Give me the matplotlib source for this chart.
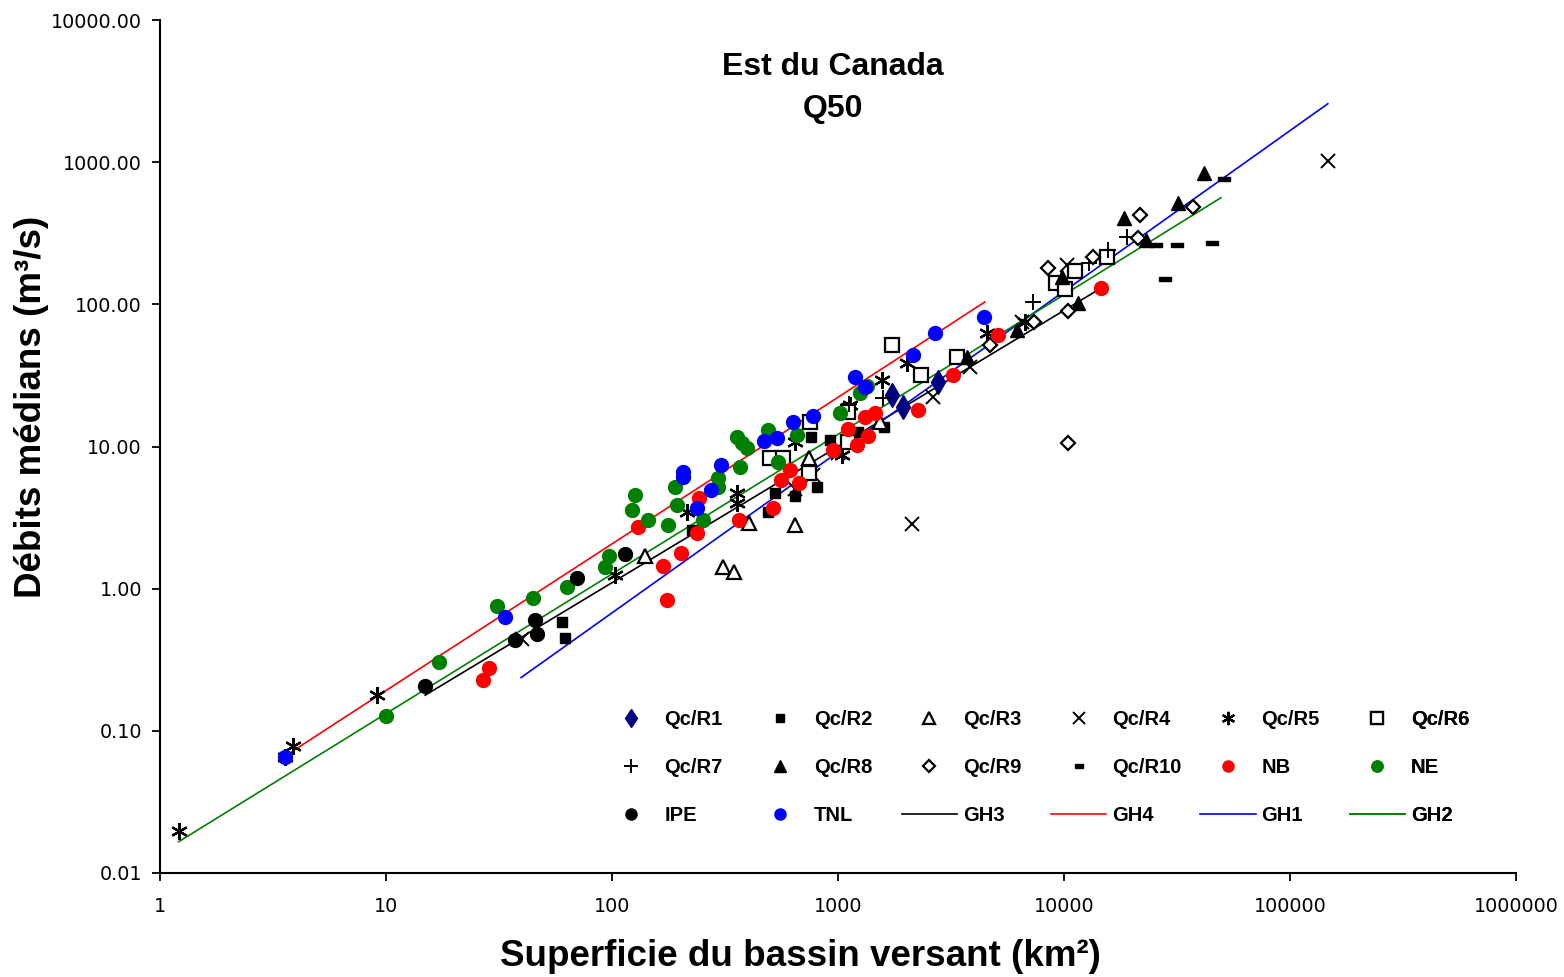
import matplotlib
matplotlib.use("Agg")
import matplotlib.pyplot as plt
from matplotlib.ticker import FixedLocator, NullLocator, FuncFormatter

# ---------------- data (area km2, median flow m3/s) ----------------
r1_x = [1740, 1941, 2770]
r1_y = [23.1, 19.0, 28.6]

r2_x = [60, 62, 226, 490, 526, 645, 760, 807, 920, 1226, 1600]
r2_y = [0.586, 0.452, 2.60, 3.48, 4.73, 4.51, 11.7, 5.22, 11.2, 12.7, 13.8]

r3_x = [140, 310, 348, 404, 645, 741, 1540]
r3_y = [1.71, 1.41, 1.30, 2.91, 2.82, 8.34, 14.9]

r4_x = [40, 645, 775, 1000, 2124, 2630, 3850, 6500, 10300, 147000]
r4_y = [0.445, 5.0, 6.34, 9.0, 2.86, 22.4, 36.4, 75.0, 190, 1023]

r5_x = [1.21, 3.57, 3.88, 9.12, 103, 215, 357, 357, 645, 1042, 1130, 1566, 2019, 4564, 6720]
r5_y = [0.0196, 0.065, 0.0787, 0.18, 1.25, 3.48, 4.73, 4.02, 10.8, 8.75, 19.7, 29.5, 38.8, 63.1, 75.5]

r6_x = [500, 571, 741, 748, 1108, 1108, 1740, 2330, 3360, 9260, 10100, 11190, 15500]
r6_y = [8.34, 8.34, 6.54, 14.9, 17.5, 10.8, 52, 32, 42.8, 142, 129, 172, 216]

r7_x = [1120, 1582, 7295, 12900, 15700, 19000]
r7_y = [20.0, 22.0, 104, 196, 242, 299]

r8_x = [3720, 6200, 9800, 11500, 18400, 23000, 31900, 41500]
r8_y = [42.8, 66.3, 156, 103, 406, 285, 518, 842]

r9_x = [4690, 7400, 8500, 10400, 10400, 13400, 21250, 21700, 37200]
r9_y = [52, 75.5, 181, 90.2, 10.5, 216, 294, 427, 486]

r10_x = [25600, 28000, 31500, 45000, 50800]
r10_y = [262, 151, 262, 271, 764]

nb_x = [26.9, 28.6, 130, 168, 175, 202, 238, 243, 365, 515, 558, 612, 672, 951,
        1108, 1213, 1316, 1359, 1458, 2261, 3228, 5118, 14600]
nb_y = [0.229, 0.278, 2.73, 1.45, 0.837, 1.79, 2.48, 4.36, 3.06, 3.71, 5.84, 6.87, 5.56, 9.49,
        13.3, 10.3, 16.0, 11.9, 17.3, 18.2, 32, 61.1, 131]

ne_x = [10.0, 17.2, 31, 44.7, 63, 93, 97, 123, 126, 144, 177, 190, 194, 253, 294, 294,
        357, 376, 396, 370, 490, 659, 542, 1021, 1251, 1340]
ne_y = [0.128, 0.307, 0.75, 0.865, 1.02, 1.43, 1.71, 3.59, 4.58, 3.06, 2.82, 5.22, 3.90, 3.06, 6.04, 5.22,
        11.7, 10.6, 9.8, 7.2, 13.1, 12.1, 7.82, 17.3, 23.9, 26.5]

ipe_x = [14.9, 37.2, 45.6, 46.6, 70, 114]
ipe_y = [0.208, 0.438, 0.605, 0.483, 1.19, 1.76]

tnl_x = [3.57, 33.6, 206, 206, 238, 274, 303, 471, 537, 632, 775, 1189, 1316, 2148, 2687, 4427]
tnl_y = [0.065, 0.635, 6.65, 6.13, 3.71, 4.97, 7.45, 11.0, 11.5, 14.9, 16.5, 31, 26.3, 44.3, 63.1, 81.8]

# regression lines (end points)
gh3_x = [14.9, 14700]
gh3_y = [0.178, 131]
gh4_x = [3.76, 4470]
gh4_y = [0.070, 104]
gh1_x = [39.6, 147000]
gh1_y = [0.237, 2576]
gh2_x = [1.21, 49500]
gh2_y = [0.0166, 562]

x_ticks = [1, 10, 100, 1000, 10000, 100000, 1000000]
y_ticks = [0.01, 0.1, 1, 10, 100, 1000, 10000]

title1 = "Est du Canada"
title2 = "Q50"
xlabel = "Superficie du bassin versant (km²)"
ylabel = "Débits médians (m³/s)"

# ---------------- figure ----------------
plt.rcParams['font.family'] = ['Liberation Sans', 'DejaVu Sans']
fig = plt.figure(figsize=(15.64, 9.77), dpi=100)
ax = fig.add_axes([160/1564, 1-873/977, 1356/1564, 853/977])
ax.set_xscale('log')
ax.set_yscale('log')
ax.set_xlim(1, 1e6)
ax.set_ylim(0.01, 10000)

lw = 1.2
l_gh3, = ax.plot(gh3_x, gh3_y, color='black', lw=lw, zorder=1)
l_gh4, = ax.plot(gh4_x, gh4_y, color='red', lw=lw, zorder=1)
l_gh1, = ax.plot(gh1_x, gh1_y, color='blue', lw=lw, zorder=1)
l_gh2, = ax.plot(gh2_x, gh2_y, color='green', lw=lw, zorder=1)

dash = [(-1, -0.42), (1, -0.42), (1, 0.42), (-1, 0.42), (-1, -0.42)]
ast = (6, 2, 0)

def sc(x, y, **kw):
    h, = ax.plot(x, y, ls='none', zorder=3, **kw)
    return h

h1 = sc(r1_x, r1_y, marker='d', ms=12, mfc='#000080', mec='#000080')
h2 = sc(r2_x, r2_y, marker='s', ms=7, mfc='black', mec='black')
h3 = sc(r3_x, r3_y, marker='^', ms=10, mfc='white', mec='black', mew=1.6)
h4 = sc(r4_x, r4_y, marker='x', ms=10.5, mec='black', mew=1.4)
h5 = sc(r5_x, r5_y, marker=ast, ms=12, mec='black', mew=1.6)
h6 = sc(r6_x, r6_y, marker='s', ms=10, mfc='white', mec='black', mew=1.6)
h7 = sc(r7_x, r7_y, marker='+', ms=12, mec='black', mew=1.4)
h8 = sc(r8_x, r8_y, marker='^', ms=10, mfc='black', mec='black')
h9 = sc(r9_x, r9_y, marker='D', ms=7.5, mfc='white', mec='black', mew=1.6)
h10 = sc(r10_x, r10_y, marker=dash, ms=8, mfc='black', mec='black')
hnb = sc(nb_x, nb_y, marker='o', ms=10, mfc='red', mec='red')
hne = sc(ne_x, ne_y, marker='o', ms=10, mfc='green', mec='green')
hipe = sc(ipe_x, ipe_y, marker='o', ms=10, mfc='black', mec='black')
htnl = sc(tnl_x, tnl_y, marker='o', ms=10, mfc='blue', mec='blue')

# axes style
for s in ['top', 'right']:
    ax.spines[s].set_visible(False)
for s in ['left', 'bottom']:
    ax.spines[s].set_linewidth(1.5)
ax.xaxis.set_major_locator(FixedLocator(x_ticks))
ax.yaxis.set_major_locator(FixedLocator(y_ticks))
ax.xaxis.set_minor_locator(NullLocator())
ax.yaxis.set_minor_locator(NullLocator())
ax.xaxis.set_major_formatter(FuncFormatter(lambda v, p: f"{v:.0f}"))
ax.yaxis.set_major_formatter(FuncFormatter(lambda v, p: f"{v:.2f}"))
ax.tick_params(axis='both', direction='out', length=6, width=1.3, labelsize=13.8)
ax.tick_params(axis='x', pad=11)
ax.tick_params(axis='y', pad=7)
for lab in ax.get_xticklabels() + ax.get_yticklabels():
    lab.set_fontfamily('DejaVu Sans')

ax.set_xlabel(xlabel, fontsize=26.5, fontweight='bold')
ax.xaxis.set_label_coords((800-160)/1356, (873-957)/853)
ax.xaxis.label.set_va('center')
ax.set_ylabel(ylabel, fontsize=26.5, fontweight='bold')
ax.yaxis.set_label_coords((32-160)/1356, (873-407)/853)
ax.yaxis.label.set_va('center')

ax.text(0.496, (873-67)/853, title1, transform=ax.transAxes, ha='center', va='center',
        fontsize=23, fontweight='bold')
ax.text(0.496, (873-109)/853, title2, transform=ax.transAxes, ha='center', va='center',
        fontsize=23, fontweight='bold')

# legend: 6 columns x 3 rows
handles = [h1, h2, h3, h4, h5, h6, h7, h8, h9, h10, hnb, hne, hipe, htnl, l_gh3, l_gh4, l_gh1, l_gh2]
labels = ['Qc/R1', 'Qc/R2', 'Qc/R3', 'Qc/R4', 'Qc/R5', 'Qc/R6',
          'Qc/R7', 'Qc/R8', 'Qc/R9', 'Qc/R10', 'NB', 'NE',
          'IPE', 'TNL', 'GH3', 'GH4', 'GH1', 'GH2']
col_x0 = (603-160)/1356
col_dx = 149.3/1356
leg_top = (873-710)/853
for c in range(6):
    hh = [handles[c], handles[c+6], handles[c+12]]
    ll = [labels[c], labels[c+6], labels[c+12]]
    lg = ax.legend(hh, ll, loc='upper left', bbox_to_anchor=(col_x0 + c*col_dx, leg_top),
                   frameon=False, borderpad=0, borderaxespad=0, handlelength=2.75,
                   handletextpad=0.3, labelspacing=1.45, markerscale=0.8,
                   prop={'family': 'Liberation Sans', 'weight': 'bold', 'size': 14.5})
    ax.add_artist(lg)

fig.savefig("out.png", dpi=100)
